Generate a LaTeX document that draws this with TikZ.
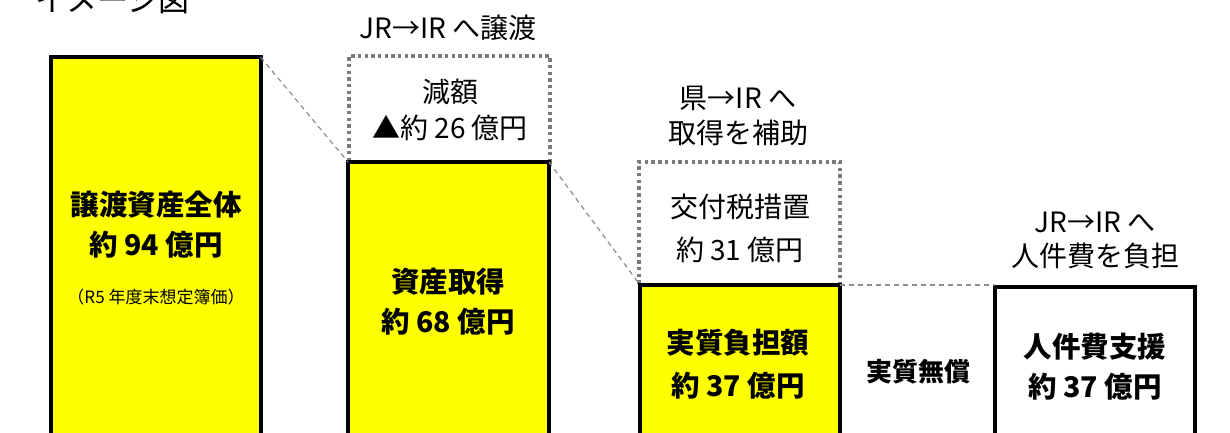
\documentclass[tikz,border=0pt]{standalone}
\usepackage{fontspec}
\setmainfont{Noto Sans CJK JP}
\definecolor{boxyellow}{HTML}{FFFF00}
\definecolor{dotgray}{HTML}{7A7A7A}
\definecolor{dashgray}{HTML}{8C8C8C}
\tikzset{
 yellowbox/.style={draw=black, line width=4pt, fill=boxyellow, inner sep=0pt, outer sep=0pt, anchor=north west},
 whitebox/.style={draw=black, line width=4pt, fill=white, inner sep=0pt, outer sep=0pt, anchor=north west},
 dotbox/.style={draw=dotgray, line width=3.6pt, dash pattern=on 3.4pt off 3.3pt, inner sep=0pt, outer sep=0pt, anchor=north west},
 guide/.style={draw=dashgray, line width=1.2pt, dash pattern=on 5pt off 4pt},
 bigbold/.style={font=\fontsize{28.5}{#1}\selectfont\bfseries, align=center, inner sep=0pt},
 plaintext/.style={font=\fontsize{28}{#1}\selectfont, align=center, inner sep=0pt},
}
\begin{document}
\begin{tikzpicture}[x=1pt, y=-1pt]
\useasboundingbox (0,0) rectangle (1230,432);
\clip (0,0) rectangle (1230,432);
% title (cut off at the top, as in the reference)
\node[font=\fontsize{31}{31}\selectfont, anchor=base west, inner sep=0pt] (title) at (35,11) {イメージ図};
% boxes
\node[yellowbox, minimum width=209.5pt, minimum height=400pt] (b1) at (51,57) {};
\node[dotbox, minimum width=201pt, minimum height=106pt] (b2d) at (349,56) {};
\node[yellowbox, minimum width=201pt, minimum height=300pt] (b2) at (348,162) {};
\node[dotbox, minimum width=201pt, minimum height=123pt] (b3d) at (639,162) {};
\node[yellowbox, minimum width=200pt, minimum height=180pt] (b3) at (640,285) {};
\node[whitebox, minimum width=200pt, minimum height=180pt] (b4) at (995,287) {};
% guides
\draw[guide] (b1.north east) -- (b2.north west);
\draw[guide] (b2.north east) -- (b3.north west);
\draw[guide] (b3.north east) -- (b3.north east -| b4.west);
% texts
\node[bigbold=40] (t1) at (156,225) {譲渡資産全体\\約 94 億円};
\node[font=\fontsize{17}{20}\selectfont, inner sep=0pt] (t1s) at (156,297) {（R5 年度末想定簿価）};
\node[plaintext=36] (l2) at (448,28) {JR→IR へ譲渡};
\node[plaintext=36] (t2d) at (450,110) {減額\\▲約 26 億円};
\node[bigbold=40] (t2) at (448,302) {資産取得\\約 68 億円};
\node[plaintext=35] (l3) at (738,116) {県→IR へ\\取得を補助};
\node[plaintext=43] (t3d) at (740,228) {交付税措置\\約 31 億円};
\node[bigbold=43] (t3) at (738,364) {実質負担額\\約 37 億円};
\node[font=\fontsize{26}{26}\selectfont\bfseries, inner sep=0pt] (mid) at (918,372) {実質無償};
\node[plaintext=34] (l4) at (1095,240) {JR→IR へ\\人件費を負担};
\node[bigbold=40] (t4) at (1095,367) {人件費支援\\約 37 億円};
\end{tikzpicture}
\end{document}
